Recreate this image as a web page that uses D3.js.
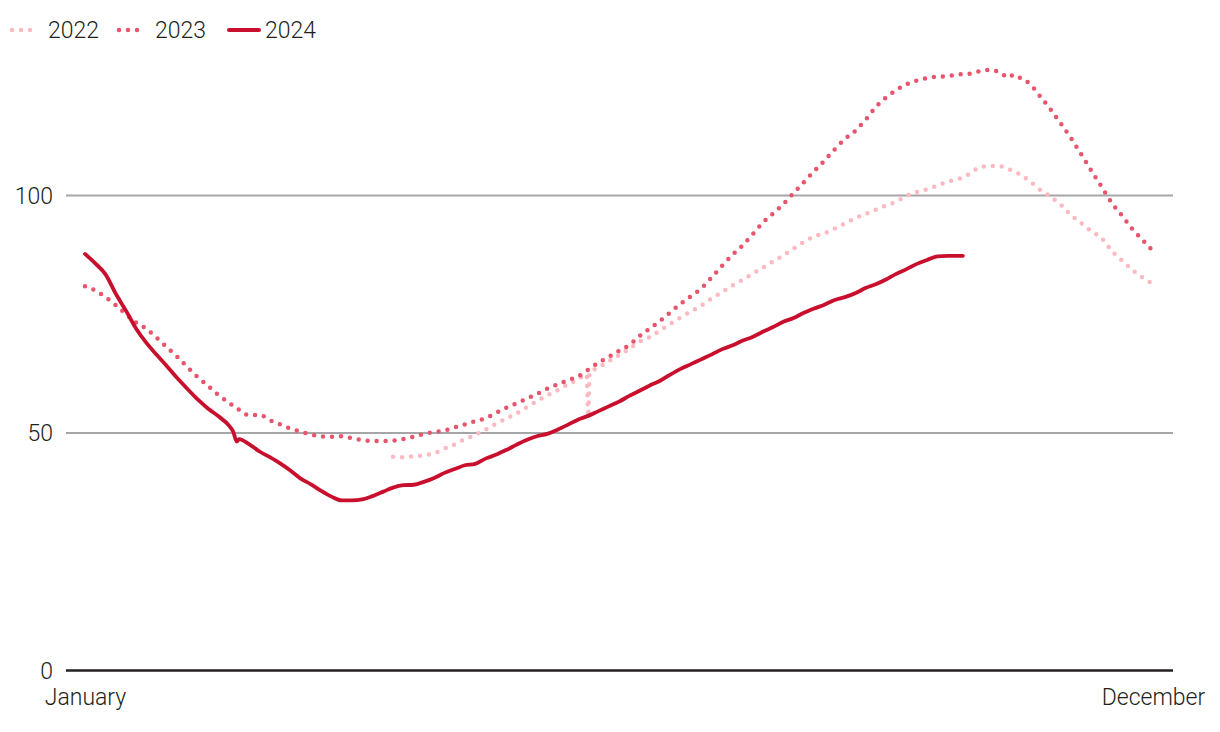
<!DOCTYPE html>
<html>
<head>
<meta charset="utf-8">
<script src="https://cdn.jsdelivr.net/npm/d3@7"></script>
<style>
  html, body { margin: 0; padding: 0; background: #fff; }
  svg { display: block; font-family: Roboto, "Noto Sans", sans-serif; }
</style>
</head>
<body>
<svg id="chart" width="1220" height="732"></svg>
<script>
// ---- data ----
const seriesNames = ["2022", "2023", "2024"];
const xLabels = ["January", "December"];
const yTicks = [0, 50, 100];
// samples every 3.5 days of the year (0 .. 364)
const sampleDays = d3.range(0, 364.01, 3.5);

const values2022 = [
  null, null, null, null, null, null, null, null, null, null,
  null, null, null, null, null, null, null, null, null, null,
  null, null, null, null, null, null, null, null, null, null,
  44.9, 44.8, 45.0, 45.2, 45.6, 46.6, 47.5, 48.6, 49.5, 50.6,
  51.8, 52.9, 54.0, 55.3, 56.6, 57.8, 58.9, 60.1, 61.2, 53.3,
  63.7, 65.0, 66.3, 67.6, 69.1, 70.1, 71.5, 72.9, 74.2, 75.5,
  76.7, 78.2, 79.5, 80.9, 82.1, 83.4, 84.7, 86.0, 87.3, 88.7,
  90.1, 91.3, 91.9, 92.9, 94.0, 95.1, 96.0, 96.9, 97.8, 98.6,
  99.8, 100.6, 101.2, 102.0, 102.8, 103.3, 104.3, 105.7, 106.1, 106.1,
  105.4, 104.4, 102.9, 101.1, 99.7, 98.0, 95.8, 94.1, 92.4, 90.9,
  88.2, 86.2, 84.2, 82.6, 81.3
];
const extraDays2022 = [171.0, 172.0];
const extraValues2022 = [62.2, 62.6];

const values2023 = [
  80.8, 79.9, 78.5, 76.8, 74.9, 73.1, 71.8, 69.9, 67.9, 65.9,
  63.7, 61.6, 59.8, 57.9, 56.3, 54.8, 53.6, 53.7, 52.6, 51.7,
  50.8, 50.2, 49.6, 49.2, 49.1, 49.2, 48.8, 48.4, 48.2, 48.2,
  48.3, 48.6, 49.1, 49.7, 50.1, 50.4, 51.1, 51.7, 52.4, 53.0,
  54.1, 55.2, 56.1, 57.1, 58.1, 59.2, 60.1, 61.0, 61.8, 63.2,
  64.7, 65.9, 67.2, 68.4, 70.3, 71.9, 73.5, 75.3, 77.1, 78.7,
  80.3, 82.6, 85.0, 87.3, 89.3, 91.7, 94.2, 96.1, 98.1, 100.4,
  102.7, 105.0, 107.2, 109.6, 111.8, 113.5, 115.8, 118.5, 120.5, 122.1,
  123.3, 124.1, 124.6, 124.9, 125.0, 125.4, 125.5, 126.0, 126.3, 125.9,
  124.7, 124.7, 123.4, 120.8, 118.1, 115.1, 112.0, 108.6, 105.1, 101.7,
  98.3, 95.6, 92.8, 90.5, 88.2
];
const extraDays2023 = [316.3];
const extraValues2023 = [125.3];

const values2024 = [
  87.6, 85.6, 83.3, 79.2, 75.6, 71.8, 68.8, 66.3, 63.9, 61.4,
  59.1, 56.9, 55.0, 53.4, 51.5, 48.6, 47.5, 46.0, 44.8, 43.5,
  42.0, 40.3, 39.1, 37.7, 36.5, 35.7, 35.7, 35.9, 36.6, 37.5,
  38.4, 38.9, 39.0, 39.6, 40.4, 41.5, 42.3, 43.1, 43.4, 44.5,
  45.3, 46.3, 47.4, 48.4, 49.2, 49.7, 50.6, 51.6, 52.7, 53.5,
  54.5, 55.5, 56.5, 57.7, 58.8, 59.9, 60.9, 62.2, 63.4, 64.4,
  65.4, 66.4, 67.5, 68.3, 69.3, 70.1, 71.2, 72.2, 73.3, 74.1,
  75.2, 76.1, 76.9, 77.9, 78.5, 79.3, 80.4, 81.2, 82.2, 83.4,
  84.4, 85.5, 86.3, 87.1, 87.2, 87.2
];
const extraDays2024 = [50.5, 51.7, 299.2];
const extraValues2024 = [50.2, 48.1, 87.2];

// ---- build ----
function buildPoints(values, extraDays, extraValues) {
  const pts = values.map((v, i) => ({ day: sampleDays[i], value: v }));
  extraDays.forEach((d, i) => pts.push({ day: d, value: extraValues[i] }));
  return pts.filter(p => p.value !== null).sort((a, b) => a.day - b.day);
}
const series = [
  { name: seriesNames[0], pts: buildPoints(values2022, extraDays2022, extraValues2022), color: "#fbbac1", dotted: true },
  { name: seriesNames[1], pts: buildPoints(values2023, extraDays2023, extraValues2023), color: "#e8546b", dotted: true },
  { name: seriesNames[2], pts: buildPoints(values2024, extraDays2024, extraValues2024), color: "#c8102e", dotted: false }
];

const svg = d3.select("#chart");
const x = d3.scaleLinear().domain([0, 364]).range([85, 1153]);
const y = d3.scaleLinear().domain([0, 100]).range([670, 195]);
const textColor = "#231f20";
const fontSize = 23;

// y axis with gridlines
const yAxis = d3.axisLeft(y).tickValues(yTicks).tickSize(-(1173 - 66)).tickPadding(13);
const gy = svg.append("g").attr("transform", "translate(66,0)").call(yAxis);
gy.select(".domain").remove();
gy.selectAll(".tick line")
  .attr("stroke", d => d === 0 ? textColor : "#a6a6a9")
  .attr("stroke-width", d => d === 0 ? 2.5 : 2);
gy.selectAll(".tick text")
  .attr("fill", textColor).attr("font-size", fontSize).attr("font-weight", 300)
  .attr("font-family", "Roboto, sans-serif").attr("dy", "0.36em");

// x axis labels
const xAxis = d3.axisBottom(x).tickValues([0, 364]).tickFormat((d, i) => xLabels[i]).tickSize(0).tickPadding(0);
const gx = svg.append("g").attr("transform", "translate(0,670)").call(xAxis);
gx.select(".domain").remove();
gx.selectAll(".tick text")
  .attr("fill", textColor).attr("font-size", fontSize).attr("font-weight", 300)
  .attr("font-family", "Roboto, sans-serif").attr("dy", 0).attr("y", 35);

// lines
const line = d3.line().x(d => x(d.day)).y(d => y(d.value)).curve(d3.curveMonotoneX);
series.forEach(s => {
  svg.append("path")
    .datum(s.pts)
    .attr("d", line)
    .attr("fill", "none")
    .attr("stroke", s.color)
    .attr("stroke-width", s.dotted ? 4.5 : 3.8)
    .attr("stroke-linecap", "round")
    .attr("stroke-linejoin", "round")
    .attr("stroke-dasharray", s.dotted ? "0 9" : null);
});

// legend
const legendX = [12, 119, 229];
const legend = svg.append("g");
series.forEach((s, i) => {
  const g = legend.append("g").attr("transform", `translate(${legendX[i]},30)`);
  g.append("line").attr("x1", 0).attr("x2", s.dotted ? 27 : 30).attr("y1", 0).attr("y2", 0)
    .attr("stroke", s.color).attr("stroke-width", s.dotted ? 4.5 : 4)
    .attr("stroke-linecap", "round")
    .attr("stroke-dasharray", s.dotted ? "0 9" : null);
  g.append("text").attr("x", 36).attr("y", 8).text(s.name)
    .attr("fill", textColor).attr("font-size", fontSize).attr("font-weight", 300);
});
</script>
</body>
</html>
